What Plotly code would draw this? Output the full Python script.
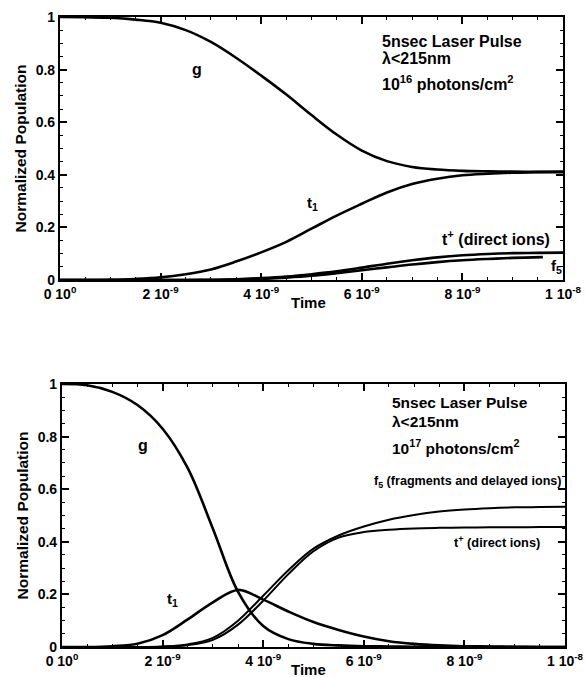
import plotly.graph_objects as go

# ---------------- data (time in ns) ----------------
t_grid = [0, 0.5, 1, 1.5, 2, 2.5, 3, 3.5, 4, 4.5, 5, 5.5, 6, 6.5, 7, 7.5, 8, 8.5, 9, 9.5, 10]

# Top panel: 10^16 photons/cm^2
g_top  = [1.000, 0.999, 0.997, 0.990, 0.978, 0.950, 0.905, 0.845, 0.777, 0.705, 0.627, 0.553, 0.492, 0.452, 0.430, 0.420, 0.415, 0.413, 0.412, 0.411, 0.410]
t1_top = [0.000, 0.000, 0.001, 0.004, 0.010, 0.022, 0.040, 0.070, 0.105, 0.145, 0.195, 0.245, 0.290, 0.333, 0.365, 0.385, 0.398, 0.404, 0.408, 0.410, 0.412]
tp_top = [0.000, 0.000, 0.000, 0.000, 0.000, 0.000, 0.001, 0.003, 0.007, 0.013, 0.022, 0.033, 0.047, 0.062, 0.075, 0.086, 0.094, 0.099, 0.102, 0.103, 0.104]
t_f5_top = [0, 0.5, 1, 1.5, 2, 2.5, 3, 3.5, 4, 4.5, 5, 5.5, 6, 6.5, 7, 7.5, 8, 8.5, 9, 9.6]
f5_top = [0.000, 0.000, 0.000, 0.000, 0.000, 0.000, 0.000, 0.002, 0.004, 0.009, 0.016, 0.026, 0.037, 0.048, 0.059, 0.068, 0.075, 0.080, 0.084, 0.087]

# Bottom panel: 10^17 photons/cm^2
g_bot  = [1.000, 0.995, 0.970, 0.920, 0.830, 0.680, 0.450, 0.210, 0.080, 0.030, 0.012, 0.006, 0.003, 0.002, 0.001, 0.001, 0.000, 0.000, 0.000, 0.000, 0.000]
t1_bot = [0.000, 0.000, 0.003, 0.012, 0.045, 0.105, 0.170, 0.217, 0.180, 0.135, 0.095, 0.065, 0.040, 0.022, 0.012, 0.006, 0.003, 0.002, 0.001, 0.000, 0.000]
tp_bot = [0.000, 0.000, 0.000, 0.000, 0.001, 0.007, 0.027, 0.085, 0.176, 0.277, 0.364, 0.416, 0.437, 0.446, 0.451, 0.453, 0.454, 0.455, 0.455, 0.456, 0.456]
f5_bot = [0.000, 0.000, 0.000, 0.000, 0.002, 0.010, 0.035, 0.100, 0.195, 0.292, 0.374, 0.424, 0.458, 0.484, 0.502, 0.515, 0.523, 0.528, 0.531, 0.532, 0.533]

x_tickvals = [0, 2, 4, 6, 8, 10]
x_ticktext = ["0 10<sup>0</sup>", "2 10<sup>-9</sup>", "4 10<sup>-9</sup>",
              "6 10<sup>-9</sup>", "8 10<sup>-9</sup>", "1 10<sup>-8</sup>"]
y_tickvals = [0, 0.2, 0.4, 0.6, 0.8, 1]
y_ticktext = ["0", "0.2", "0.4", "0.6", "0.8", "1"]

FONT = "Liberation Sans, Arial, Helvetica, sans-serif"
W, H = 585, 677

fig = go.Figure()
line = dict(color="black", width=2.6, shape="spline", smoothing=1.0)
thin = dict(color="black", width=2.0, shape="spline", smoothing=1.0)
for x, y in [(t_grid, g_top), (t_grid, t1_top), (t_grid, tp_top), (t_f5_top, f5_top)]:
    fig.add_trace(go.Scatter(x=x, y=y, mode="lines", line=line, xaxis="x", yaxis="y", showlegend=False))
for x, y, ln in [(t_grid, g_bot, line), (t_grid, t1_bot, line), (t_grid, tp_bot, thin), (t_grid, f5_bot, thin)]:
    fig.add_trace(go.Scatter(x=x, y=y, mode="lines", line=ln, xaxis="x2", yaxis="y2", showlegend=False))

def xax(domain, anchor):
    return dict(domain=domain, anchor=anchor, range=[0, 10], tickvals=x_tickvals, ticktext=x_ticktext,
                ticks="inside", ticklen=7, tickwidth=1.5, tickcolor="black",
                showline=True, linewidth=2.2, linecolor="black", mirror="ticks",
                showgrid=False, zeroline=False,
                minor=dict(ticks="inside", ticklen=3, tickwidth=1, tickcolor="black", dtick=0.5),
                tickfont=dict(family=FONT, size=14, color="black", weight="bold"), automargin=False)

def yax(domain, anchor):
    return dict(domain=domain, anchor=anchor, range=[0, 1], tickvals=y_tickvals, ticktext=y_ticktext,
                ticks="inside", ticklen=7, tickwidth=1.5, tickcolor="black",
                showline=True, linewidth=2.2, linecolor="black", mirror="ticks",
                showgrid=False, zeroline=False,
                minor=dict(ticks="inside", ticklen=3, tickwidth=1, tickcolor="black", dtick=0.05),
                tickfont=dict(family=FONT, size=14, color="black", weight="bold"),
                title=dict(text="Normalized Population",
                           font=dict(family=FONT, size=15.5, color="black", weight="bold"), standoff=5),
                automargin=False)

fig.update_layout(
    width=W, height=H, margin=dict(l=0, r=0, t=0, b=0),
    paper_bgcolor="white", plot_bgcolor="white",
    xaxis=xax([60 / W, 563 / W], "y"),
    yaxis=yax([1 - 280 / H, 1 - 17 / H], "x"),
    xaxis2=xax([62 / W, 565 / W], "y2"),
    yaxis2=yax([1 - 647 / H, 1 - 384 / H], "x2"),
    font=dict(family=FONT, color="black"),
)

def ann(text, x, y, xref, yref, size=15, xanchor="left"):
    fig.add_annotation(text=text, x=x, y=y, xref=xref, yref=yref, showarrow=False,
                       xanchor=xanchor, yanchor="middle",
                       font=dict(family=FONT, size=size, color="black", weight="bold"))

# Top panel labels
ann("5nsec Laser Pulse", 6.36, 0.905, "x", "y", 16)
ann("λ&lt;215nm", 6.36, 0.844, "x", "y", 16)
ann("10<sup>16</sup> photons/cm<sup>2</sup>", 6.36, 0.749, "x", "y", 16)
ann("g", 2.72, 0.80, "x", "y", 16, "center")
ann("t<sub>1</sub>", 5.01, 0.29, "x", "y", 15, "center")
ann("t<sup>+</sup> (direct ions)", 7.55, 0.16, "x", "y", 16)
ann("f<sub>5</sub>", 9.72, 0.05, "x", "y", 15)
ann("Time", 308 / W, 1 - 302 / H, "paper", "paper", 15, "center")

# Bottom panel labels
ann("5nsec Laser Pulse", 6.52, 0.928, "x2", "y2", 15.5)
ann("λ&lt;215nm", 6.52, 0.856, "x2", "y2", 15.5)
ann("10<sup>17</sup> photons/cm<sup>2</sup>", 6.52, 0.760, "x2", "y2", 15.5)
ann("f<sub>5</sub> (fragments and delayed ions)", 9.98, 0.628, "x2", "y2", 12.6, "right")
ann("t<sup>+</sup> (direct ions)", 7.75, 0.400, "x2", "y2", 12.8)
ann("g", 1.61, 0.768, "x2", "y2", 16, "center")
ann("t<sub>1</sub>", 2.2, 0.18, "x2", "y2", 15, "center")
ann("Time", 308 / W, 1 - 669 / H, "paper", "paper", 15, "center")

fig.write_html("out.html")
